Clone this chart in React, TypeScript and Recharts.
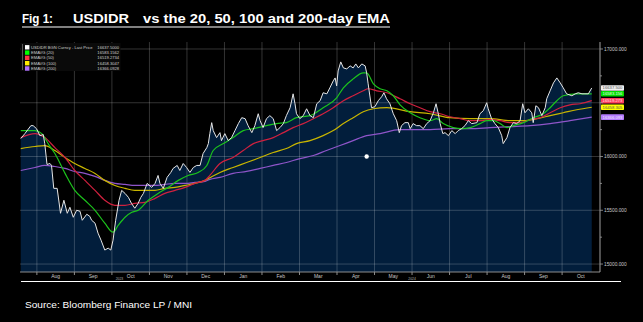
import React from 'react';
import { ComposedChart, Area, Line, XAxis, YAxis, ReferenceLine, ReferenceDot } from 'recharts';

// ---- data (t = months since 1 Jul 2023, v = IDR per USD) ----
const usdidr: [number, number][] = [
  [0.57,16167],[0.68,16213],[0.84,16287],[0.90,16287],[0.99,16259],[1.08,16194],[1.17,16204],[1.21,16120],[1.27,15926],[1.35,15935],
  [1.39,15917],[1.45,15704],[1.54,15704],[1.63,15472],[1.72,15593],[1.81,15472],[1.88,15528],[1.97,15435],[2.06,15500],[2.15,15491],
  [2.21,15407],[2.33,15463],[2.41,15444],[2.46,15407],[2.55,15380],[2.63,15287],[2.71,15222],[2.81,15130],[2.90,15148],[2.97,15130],
  [3.03,15222],[3.10,15407],[3.19,15593],[3.26,15685],[3.35,15657],[3.44,15620],[3.52,15565],[3.61,15519],[3.70,15565],[3.77,15620],
  [3.84,15657],[3.94,15750],[4.06,15713],[4.15,15750],[4.23,15824],[4.28,15750],[4.37,15704],[4.47,15806],[4.57,15852],[4.63,15889],
  [4.74,15917],[4.81,15870],[4.90,15935],[4.99,15898],[5.08,15852],[5.17,15898],[5.26,15917],[5.35,15917],[5.43,16028],[5.53,16083],
  [5.57,16120],[5.61,16213],[5.66,16315],[5.70,16241],[5.79,16176],[5.88,16222],[5.92,16148],[6.01,16213],[6.10,16148],[6.19,16176],
  [6.28,16241],[6.37,16306],[6.46,16361],[6.55,16352],[6.63,16287],[6.73,16222],[6.81,16287],[6.90,16398],[6.95,16333],[7.03,16269],
  [7.12,16352],[7.21,16380],[7.30,16352],[7.39,16241],[7.48,16269],[7.57,16306],[7.65,16380],[7.75,16454],[7.83,16583],[7.88,16491],
  [7.92,16398],[8.01,16352],[8.10,16380],[8.19,16444],[8.28,16380],[8.37,16361],[8.46,16491],[8.55,16519],[8.63,16593],[8.73,16583],
  [8.81,16639],[8.90,16704],[8.95,16731],[8.99,16657],[9.03,16796],[9.10,16880],[9.17,16824],[9.26,16815],[9.35,16843],[9.43,16824],
  [9.50,16861],[9.57,16824],[9.66,16861],[9.75,16843],[9.79,16778],[9.83,16676],[9.92,16454],[10.01,16463],[10.10,16519],[10.19,16556],
  [10.25,16593],[10.32,16537],[10.41,16491],[10.50,16398],[10.59,16333],[10.66,16222],[10.72,16287],[10.81,16315],[10.90,16315],[10.95,16259],
  [11.03,16306],[11.12,16287],[11.21,16287],[11.30,16259],[11.39,16306],[11.48,16333],[11.57,16407],[11.64,16491],[11.70,16398],[11.75,16306],
  [11.82,16213],[11.88,16222],[11.97,16194],[12.06,16241],[12.15,16213],[12.23,16241],[12.32,16259],[12.41,16287],[12.50,16333],[12.59,16306],
  [12.73,16315],[12.81,16398],[12.90,16426],[12.99,16500],[13.03,16444],[13.12,16352],[13.21,16306],[13.30,16269],[13.39,16194],[13.43,16120],
  [13.53,16176],[13.61,16269],[13.70,16315],[13.79,16306],[13.88,16333],[13.95,16491],[14.01,16407],[14.10,16444],[14.19,16407],[14.23,16315],
  [14.30,16472],[14.37,16454],[14.46,16380],[14.55,16454],[14.59,16537],[14.68,16611],[14.77,16685],[14.86,16731],[14.95,16685],[15.03,16639],
  [15.12,16583],[15.26,16565],[15.35,16583],[15.43,16593],[15.53,16583],[15.61,16583],[15.70,16583],[15.79,16637.5],
];

const ema20: [number, number][] = [
  [0.57,16241],[0.95,16241],[1.13,16213],[1.30,16120],[1.48,16028],[1.75,15843],[2.01,15685],[2.28,15593],[2.55,15500],[2.81,15380],
  [3.03,15296],[3.17,15361],[3.35,15435],[3.53,15481],[3.70,15500],[3.97,15593],[4.23,15657],[4.50,15713],[4.77,15778],[5.03,15824],
  [5.30,15852],[5.53,15917],[5.70,16056],[5.97,16120],[6.23,16176],[6.50,16241],[6.77,16259],[7.12,16287],[7.39,16306],[7.65,16315],
  [7.92,16361],[8.28,16380],[8.63,16454],[8.99,16546],[9.17,16639],[9.43,16722],[9.70,16778],[9.79,16778],[9.97,16676],[10.15,16630],
  [10.33,16611],[10.50,16565],[10.68,16481],[10.95,16407],[11.21,16361],[11.48,16333],[11.66,16352],[11.83,16306],[12.10,16269],[12.33,16259],
  [12.55,16269],[12.81,16306],[12.99,16333],[13.17,16333],[13.35,16306],[13.53,16269],[13.70,16287],[13.97,16315],[14.23,16361],[14.50,16398],
  [14.68,16454],[14.86,16519],[15.03,16565],[15.39,16583],[15.79,16583.16],
];

const ema50: [number, number][] = [
  [0.57,16176],[0.95,16213],[1.21,16176],[1.48,16083],[1.75,15991],[2.01,15870],[2.28,15778],[2.55,15685],[2.81,15593],[3.08,15546],
  [3.35,15546],[3.61,15565],[3.88,15574],[4.15,15611],[4.41,15657],[4.68,15685],[4.95,15713],[5.21,15750],[5.48,15778],[5.61,15824],
  [5.88,15935],[6.23,15991],[6.50,16056],[6.77,16120],[7.03,16148],[7.30,16176],[7.57,16222],[7.83,16269],[8.10,16306],[8.37,16352],
  [8.63,16398],[8.90,16454],[9.17,16519],[9.43,16565],[9.70,16611],[9.83,16630],[10.06,16611],[10.33,16593],[10.68,16537],[10.95,16491],
  [11.21,16454],[11.48,16417],[11.75,16398],[12.01,16370],[12.28,16352],[12.55,16333],[12.81,16333],[13.08,16343],[13.35,16333],[13.61,16315],
  [13.88,16315],[14.15,16343],[14.41,16361],[14.68,16407],[14.95,16454],[15.21,16481],[15.48,16491],[15.79,16519.27],
];

const ema100: [number, number][] = [
  [0.57,16074],[0.95,16093],[1.21,16102],[1.48,16056],[1.75,15991],[2.01,15935],[2.28,15889],[2.55,15843],[2.81,15778],[3.08,15731],
  [3.35,15704],[3.61,15685],[3.88,15685],[4.15,15685],[4.41,15704],[4.68,15713],[4.95,15731],[5.21,15750],[5.48,15778],[5.67,15815],
  [5.88,15852],[6.23,15898],[6.59,15944],[6.95,15991],[7.30,16037],[7.65,16074],[7.92,16120],[8.28,16148],[8.63,16194],[8.90,16241],
  [9.17,16306],[9.43,16361],[9.70,16417],[9.97,16444],[10.33,16454],[10.95,16417],[11.48,16398],[12.01,16361],[12.55,16352],[13.08,16352],
  [13.61,16333],[13.97,16333],[14.33,16352],[14.68,16380],[15.03,16407],[15.39,16435],[15.79,16458.3],
];

const ema200: [number, number][] = [
  [0.57,15870],[0.95,15898],[1.21,15917],[1.48,15907],[1.75,15889],[2.01,15861],[2.28,15843],[2.55,15815],[2.81,15778],[3.08,15750],
  [3.35,15741],[3.61,15731],[3.88,15731],[4.15,15731],[4.41,15741],[4.68,15750],[4.95,15750],[5.21,15759],[5.48,15769],[5.61,15787],
  [5.88,15806],[6.23,15843],[6.59,15861],[6.95,15889],[7.30,15917],[7.65,15944],[8.01,15981],[8.37,16009],[8.72,16056],[9.08,16102],
  [9.43,16148],[9.79,16194],[10.15,16213],[10.66,16250],[10.95,16250],[11.48,16250],[12.01,16259],[12.55,16259],[13.08,16269],[13.61,16278],
  [14.15,16287],[14.68,16306],[15.21,16333],[15.79,16366.09],
];

const monthLabels = ['Aug','Sep','Oct','Nov','Dec','Jan','Feb','Mar','Apr','May','Jun','Jul','Aug','Sep','Oct'];
const monthStarts = [1,2,3,4,5,6,7,8,9,10,11,12,13,14,15];
const yearLabels = ['2023','2024'];
const yearCentres = [3.2, 11.0];
const valueTicks = [15000,15250,15500,15750,16000,16250,16500,16750,17000];
const gridValues = [15000,15500,16000,16500,17000];
const hiddenTickLabels = [16500];
const marker = { t: 9.79, v: 16000 };

const seriesNames = ['USDIDR BGN Curncy - Last Price','EMAVG (20)','EMAVG (50)','EMAVG (100)','EMAVG (200)'];
const lastValues = [16637.5, 16583.1562, 16519.2734, 16458.3047, 16366.0928];
const lineColors = ['#e6e6e6','#1cc31c','#d0213f','#c9b600','#8f55c9'];
const tagColors = ['#f0f0f0','#00e000','#ff3d5e','#ffff00','#b47cff'];
const tagText = ['#555','#e8ffe8','#ffe0e6','#555','#f3e8ff'];
const legendSwatch = ['#ffffff','#00ff00','#ff3344','#ffee00','#b070ff'];

const xDomain: [number, number] = [0.55, 16.01];
const yDomain: [number, number] = [14926, 17065];

const toRows = (arr: [number, number][]) => arr.map(([t, v]) => ({ t, v }));

const RightTick = (props: any) => {
  const { x, y, payload } = props;
  const v = payload.value;
  const major = v % 500 === 0;
  return (
    <g>
      <line x1={600} x2={major ? 603 : 602} y1={y} y2={y} stroke="#a0a0a0" strokeWidth={0.8} />
      {major && !hiddenTickLabels.includes(v) && (
        <text x={604} y={y} dy="0.35em" fontSize={4.8} fill="#c8c8c8" fontFamily="Liberation Sans, Arial, sans-serif">
          {v.toFixed(3)}
        </text>
      )}
    </g>
  );
};

const makeTag = (i: number) => (props: any) => {
  const { cx, cy } = props;
  return (
    <g>
      <rect x={cx + 1} y={cy - 2.8} width={23} height={5.6} fill={tagColors[i]} rx={0.8} />
      <text x={cx + 12.5} y={cy} dy="0.35em" textAnchor="middle" fontSize={4.2} fill={tagText[i]} fontFamily="Liberation Sans, Arial, sans-serif">
        {lastValues[i].toFixed(3)}
      </text>
    </g>
  );
};

export default function App() {
  const font = 'Liberation Sans, Arial, sans-serif';
  return (
    <div style={{ position: 'absolute', left: 0, top: 0, width: 643, height: 322, background: '#000', overflow: 'hidden' }}>
      <ComposedChart width={643} height={322} margin={{ top: 42, right: 20, bottom: 40, left: 20 }}>
        <XAxis type="number" dataKey="t" domain={xDomain} allowDataOverflow ticks={monthStarts} height={2}
          tickSize={3} tickFormatter={() => ''} stroke="#8c8c8c" tickLine={{ stroke: '#8c8c8c' }} />
        <XAxis xAxisId="m" type="number" dataKey="t" domain={xDomain} allowDataOverflow
          ticks={monthStarts.map((m) => m + 0.5)} tickFormatter={(v: number) => monthLabels[Math.round(v - 1.5)]}
          axisLine={false} tickLine={false} tickSize={0} tickMargin={0} height={4} interval={0}
          tick={{ fontSize: 5, fill: '#c8c8c8', fontFamily: font }} />
        <XAxis xAxisId="y" type="number" dataKey="t" domain={xDomain} allowDataOverflow
          ticks={yearCentres} tickFormatter={(v: number) => yearLabels[yearCentres.indexOf(v)]}
          axisLine={false} tickLine={false} tickSize={0} tickMargin={0} height={4} interval={0}
          tick={{ fontSize: 3.4, fill: '#b0b0b0', fontFamily: font }} />
        <YAxis orientation="right" type="number" domain={yDomain} allowDataOverflow ticks={valueTicks} width={23}
          interval={0} tickLine={false} tickSize={0} tickMargin={0} stroke="#a0a0a0" tick={<RightTick />} />

        <Area data={toRows(usdidr)} dataKey="v" type="linear" fill="#021e3c" fillOpacity={1} stroke="none" isAnimationActive={false} />

        {monthStarts.map((m) => (
          <ReferenceLine key={'vx' + m} x={m} stroke="#ffffff" strokeOpacity={0.2} strokeWidth={1} />
        ))}
        {gridValues.map((g) => (
          <ReferenceLine key={'hy' + g} y={g} stroke="#ffffff" strokeOpacity={0.2} strokeWidth={1} />
        ))}

        <Line data={toRows(ema200)} dataKey="v" type="monotone" stroke={lineColors[4]} strokeWidth={1.2} dot={false} isAnimationActive={false} />
        <Line data={toRows(ema100)} dataKey="v" type="monotone" stroke={lineColors[3]} strokeWidth={1.2} dot={false} isAnimationActive={false} />
        <Line data={toRows(ema50)} dataKey="v" type="monotone" stroke={lineColors[2]} strokeWidth={1.2} dot={false} isAnimationActive={false} />
        <Line data={toRows(ema20)} dataKey="v" type="monotone" stroke={lineColors[1]} strokeWidth={1.2} dot={false} isAnimationActive={false} />
        <Line data={toRows(usdidr)} dataKey="v" type="linear" stroke={lineColors[0]} strokeWidth={1} dot={false} isAnimationActive={false} />

        <ReferenceDot x={marker.t} y={marker.v} r={2.2} fill="#ffffff" stroke="none" />
        {lastValues.map((lv, i) => (
          <ReferenceDot key={'tag' + i} x={xDomain[1]} y={lv} r={0} shape={makeTag(i)} />
        ))}
      </ComposedChart>

      <svg width={643} height={322} style={{ position: 'absolute', left: 0, top: 0, pointerEvents: 'none' }}>
        <g fontFamily={font} fontWeight="bold" fontSize={13} fill="#ffffff">
          <text x={22} y={23} textLength={31} lengthAdjust="spacingAndGlyphs">Fig 1:</text>
          <text x={73} y={23} textLength={56} lengthAdjust="spacingAndGlyphs">USDIDR</text>
          <text x={143} y={23} textLength={247} lengthAdjust="spacingAndGlyphs">vs the 20, 50, 100 and 200-day EMA</text>
        </g>
        <line x1={22} x2={390} y1={27} y2={27} stroke="#ffffff" strokeWidth={1.1} />

        <rect x={20.5} y={43} width={100} height={28} fill="#0a0a0a" />
        <line x1={22.5} x2={22.5} y1={44} y2={70} stroke="#8a8a8a" strokeWidth={0.6} />
        {seriesNames.map((n, i) => {
          const cy = 47.3 + i * 5.3;
          return (
            <g key={n}>
              <rect x={25} y={cy - 2.2} width={4.4} height={4.4} fill={legendSwatch[i]} />
              <text x={31} y={cy} dy="0.35em" fontSize={4.1} fill="#cfcfcf" fontFamily={font}>{n}</text>
              <text x={119} y={cy} dy="0.35em" fontSize={4.1} fill="#cfcfcf" textAnchor="end" fontFamily={font}>
                {lastValues[i].toFixed(4)}
              </text>
            </g>
          );
        })}

        <line x1={21} x2={621} y1={281.5} y2={281.5} stroke="#ffffff" strokeWidth={1.2} />
        <text x={25} y={308} fontSize={9.5} fill="#ffffff" fontFamily={font} textLength={167} lengthAdjust="spacingAndGlyphs">
          Source: Bloomberg Finance LP / MNI
        </text>
      </svg>
    </div>
  );
}
